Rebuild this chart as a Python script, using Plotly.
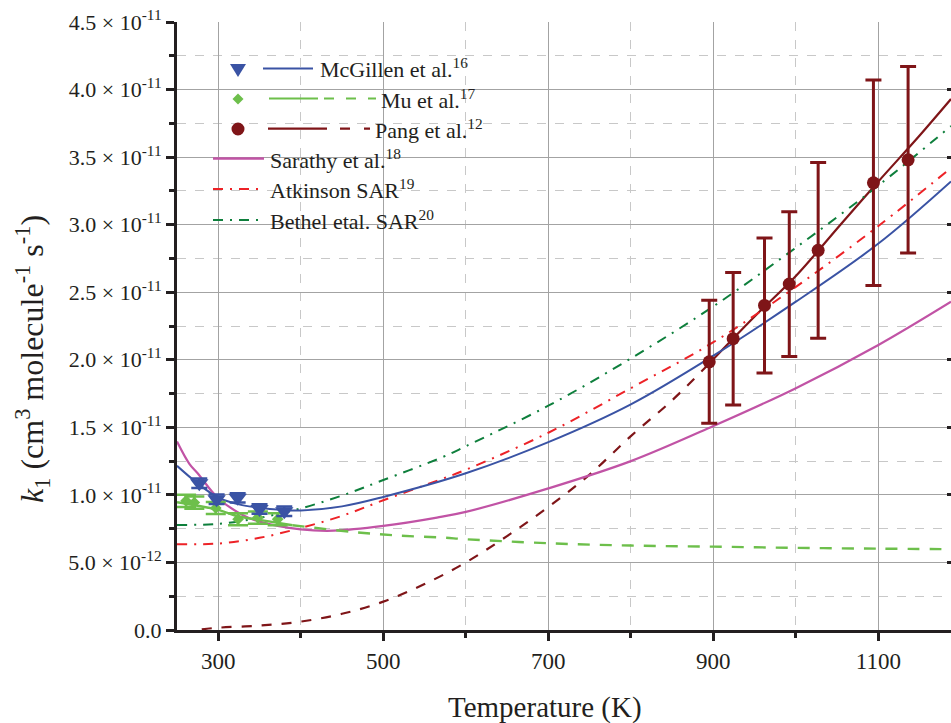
import plotly.graph_objects as go

# ---------------- data (k in units of 1e-12 cm3 molecule-1 s-1) ----------------
# McGillen et al. measurements and fit
mcg_T = [277, 298, 323.5, 350, 380]
mcg_k = [10.86, 9.68, 9.78, 8.96, 8.79]
mcg_err = [0.35, 0.35, 0.35, 0.35, 0.35]
mcg_fit_T = [250, 275, 300, 325, 350, 375, 400, 450, 500, 600, 700, 800, 900, 1000, 1100, 1188]
mcg_fit_k = [12.15, 10.85, 9.8, 9.3, 9.05, 8.9, 8.85, 9.15, 9.85, 11.6, 13.9, 16.7, 20.3, 24.3, 28.6, 33.2]

# Mu et al. measurements and fit (solid in measured range, dashed extrapolation)
mu_T = [261, 271, 297, 324, 348, 372]
mu_k = [9.56, 9.43, 9.03, 8.2, 8.32, 8.2]
mu_err = [0.45, 0.45, 0.45, 0.45, 0.45, 0.45]
mu_fit_T = [250, 275, 300, 325, 350, 390]
mu_fit_k = [9.46, 9.2, 8.89, 8.4, 8.15, 7.75]
mu_ext_T = [390, 415, 466, 518, 572, 600, 700, 800, 900, 1000, 1100, 1188]
mu_ext_k = [7.75, 7.58, 7.24, 6.99, 6.84, 6.72, 6.42, 6.25, 6.17, 6.08, 6.02, 5.98]

# Pang et al. measurements and fit
pang_T = [895, 924, 962, 992, 1027, 1094, 1136]
pang_k = [19.85, 21.56, 24.02, 25.6, 28.1, 33.1, 34.8]
pang_err = [4.55, 4.9, 5.0, 5.35, 6.5, 7.6, 6.9]
pang_ext_T = [280, 300, 350, 400, 450, 500, 550, 600, 650, 700, 750, 800, 850, 897]
pang_ext_k = [0.05, 0.17, 0.33, 0.62, 1.2, 2.1, 3.4, 5.0, 6.95, 9.1, 11.5, 14.35, 17.0, 19.85]
pang_fit_T = [897, 950, 1000, 1054, 1100, 1150, 1188]
pang_fit_k = [19.85, 23.2, 26.2, 30.0, 33.2, 36.6, 39.3]

# Sarathy et al.
sar_T = [250, 265, 275, 300, 330, 350, 400, 440, 500, 565, 600, 700, 800, 900, 1000, 1100, 1188]
sar_k = [13.95, 12.3, 11.6, 9.75, 8.5, 8.02, 7.45, 7.35, 7.7, 8.32, 8.74, 10.48, 12.5, 15.1, 17.9, 21.1, 24.3]

# Atkinson SAR
atk_T = [250, 300, 350, 400, 450, 500, 572, 600, 700, 800, 900, 1000, 1100, 1188]
atk_k = [6.35, 6.4, 6.82, 7.55, 8.45, 9.6, 11.2, 11.86, 14.6, 17.9, 21.3, 25.4, 29.9, 34.2]

# Bethel et al. SAR
bet_T = [250, 300, 350, 400, 450, 500, 572, 600, 700, 800, 900, 1000, 1100, 1188]
bet_k = [7.78, 7.85, 8.3, 9.0, 9.95, 11.1, 12.8, 13.6, 16.6, 20.1, 23.95, 28.3, 32.9, 37.3]

# axis ticks
y_tickvals = [0, 5, 10, 15, 20, 25, 30, 35, 40, 45]
y_ticktext = ["0.0", "5.0 × 10<sup>-12</sup>", "1.0 × 10<sup>-11</sup>", "1.5 × 10<sup>-11</sup>",
              "2.0 × 10<sup>-11</sup>", "2.5 × 10<sup>-11</sup>", "3.0 × 10<sup>-11</sup>",
              "3.5 × 10<sup>-11</sup>", "4.0 × 10<sup>-11</sup>", "4.5 × 10<sup>-11</sup>"]
x_tickvals = [300, 500, 700, 900, 1100]

# legend entries
leg_labels = ["McGillen et al.<sup>16</sup>", "Mu et al.<sup>17</sup>", "Pang et al.<sup>12</sup>",
              "Sarathy et al.<sup>18</sup>", "Atkinson SAR<sup>19</sup>", "Bethel etal. SAR<sup>20</sup>"]

# ---------------- styles ----------------
BLUE = "#3a53a4"
LGREEN = "#6dbf4b"
DRED = "#7f1518"
MAG = "#c153a5"
RED = "#ed2227"
DGREEN = "#0e7f3c"
INK = "#231f20"
FONT = "Liberation Serif, 'Times New Roman', Times, serif"
DASHDOT = "10px,7px,2px,7px"

fig = go.Figure()

def line(x, y, color, dash="solid", width=2):
    fig.add_trace(go.Scatter(x=x, y=y, mode="lines", line=dict(color=color, width=width, dash=dash, shape="spline"),
                             showlegend=False, hoverinfo="skip"))

line(pang_ext_T, pang_ext_k, DRED, "10px,10px", 2.2)
line(pang_fit_T, pang_fit_k, DRED, "solid", 2.2)
line(bet_T, bet_k, DGREEN, DASHDOT, 2)
line(atk_T, atk_k, RED, DASHDOT, 2)
line(sar_T, sar_k, MAG, "solid", 2.2)
line(mu_ext_T, mu_ext_k, LGREEN, "12px,10px", 2.4)
line(mu_fit_T, mu_fit_k, LGREEN, "solid", 2.4)
line(mcg_fit_T, mcg_fit_k, BLUE, "solid", 2)

fig.add_trace(go.Scatter(x=mu_T, y=mu_k, mode="markers",
                         marker=dict(symbol="diamond", size=9, color=LGREEN),
                         error_y=dict(type="data", array=mu_err, color=LGREEN, thickness=2.5, width=10),
                         showlegend=False))
fig.add_trace(go.Scatter(x=mcg_T, y=mcg_k, mode="markers",
                         marker=dict(symbol="triangle-down", size=16, color=BLUE),
                         error_y=dict(type="data", array=mcg_err, color=BLUE, thickness=2.5, width=8),
                         showlegend=False))
fig.add_trace(go.Scatter(x=pang_T, y=pang_k, mode="markers",
                         marker=dict(symbol="circle", size=13, color=DRED),
                         error_y=dict(type="data", array=pang_err, color=DRED, thickness=3, width=8),
                         showlegend=False))
# dummy trace for right-hand tick axis
fig.add_trace(go.Scatter(x=[], y=[], yaxis="y2", showlegend=False))

# ---------------- custom legend (pixel layout -> paper) ----------------
PL, PB, PW, PH = 177, 630, 774, 608
def fx(x):
    return (x - PL) / PW
def fy(y):
    return (PB - y) / PH

shapes = []
annotations = []
def seg(x0, x1, y, color, dash="solid", width=2.2):
    shapes.append(dict(type="line", xref="paper", yref="paper", x0=fx(x0), x1=fx(x1), y0=fy(y), y1=fy(y),
                       line=dict(color=color, width=width, dash=dash)))

seg(263, 313, 68.5, BLUE)
seg(269, 318, 98.5, LGREEN)
seg(324, 376, 98.5, LGREEN, "10px,12px")
seg(268, 327, 128.7, DRED)
seg(340, 370, 128.7, DRED, "10px,14px")
seg(213, 264, 158.5, MAG, "solid", 2.5)
seg(213, 261, 189, RED, DASHDOT)
seg(213, 261, 220, DGREEN, DASHDOT)

# legend symbols (pixel-sized shapes)
shapes.append(dict(type="path", xref="paper", yref="paper", xsizemode="pixel", ysizemode="pixel",
                   xanchor=fx(238), yanchor=fy(69), path="M -8,5 L 8,5 L 0,-8 Z",
                   fillcolor=BLUE, line=dict(width=0)))
shapes.append(dict(type="path", xref="paper", yref="paper", xsizemode="pixel", ysizemode="pixel",
                   xanchor=fx(238), yanchor=fy(99), path="M -5.5,0 L 0,5.5 L 5.5,0 L 0,-5.5 Z",
                   fillcolor=LGREEN, line=dict(width=0)))
shapes.append(dict(type="circle", xref="paper", yref="paper", xsizemode="pixel", ysizemode="pixel",
                   xanchor=fx(238), yanchor=fy(129), x0=-6.5, x1=6.5, y0=-6.5, y1=6.5,
                   fillcolor=DRED, line=dict(width=0)))

leg_pos = [(318, 68.5), (379, 99), (373, 129), (268, 158.5), (268, 188.5), (268, 219.5)]
for (lx, ly), txt in zip(leg_pos, leg_labels):
    annotations.append(dict(xref="paper", yref="paper", x=fx(lx), y=fy(ly), text=txt, showarrow=False,
                            xanchor="left", yanchor="middle", font=dict(family=FONT, size=22, color=INK)))

# axis titles
annotations.append(dict(xref="paper", yref="paper", x=fx(545), y=fy(707), text="Temperature (K)",
                        showarrow=False, xanchor="center", yanchor="middle",
                        font=dict(family=FONT, size=29, color=INK)))
annotations.append(dict(xref="paper", yref="paper", x=fx(32), y=fy(359),
                        text="<i>k</i><sub>1</sub> (cm<sup>3</sup> molecule<sup>-1</sup> s<sup>-1</sup>)",
                        textangle=-90, showarrow=False, xanchor="center", yanchor="middle",
                        font=dict(family=FONT, size=32, color=INK)))

fig.update_layout(
    width=951, height=723,
    margin=dict(l=177, r=0, t=22, b=93),
    paper_bgcolor="white", plot_bgcolor="white",
    font=dict(family=FONT, color=INK),
    shapes=shapes, annotations=annotations,
    showlegend=False,
    xaxis=dict(range=[250, 1188], tickvals=x_tickvals, ticks="outside", ticklen=8, tickwidth=2.5,
               tickcolor=INK, showline=True, linecolor=INK, linewidth=3, zeroline=False,
               showgrid=True, gridcolor="#a3a3a3", gridwidth=1.3,
               tickfont=dict(family=FONT, size=23, color=INK),
               minor=dict(tickvals=[400, 600, 800, 1000], ticks="outside", ticklen=5, tickwidth=2.5,
                          tickcolor=INK, showgrid=True, gridcolor="#c8c8c8", griddash="dash", gridwidth=1)),
    yaxis=dict(range=[0, 45], tickvals=y_tickvals, ticktext=y_ticktext, ticks="outside", ticklen=8,
               tickwidth=2.5, tickcolor=INK, showline=True, linecolor=INK, linewidth=3, zeroline=False,
               showgrid=True, gridcolor="#a3a3a3", gridwidth=1.3,
               tickfont=dict(family=FONT, size=22, color=INK),
               minor=dict(dtick=2.5, tick0=0, ticks="outside", ticklen=5, tickwidth=2.5, tickcolor=INK,
                          showgrid=True, gridcolor="#c8c8c8", griddash="dash", gridwidth=1)),
    yaxis2=dict(range=[0, 45], overlaying="y", side="right", tickvals=y_tickvals, ticks="inside",
                ticklen=4, tickwidth=3, tickcolor=INK, showticklabels=False, showgrid=False,
                showline=False, zeroline=False),
)

fig.write_html("out.html", config={"displayModeBar": False},
               post_script="document.body.style.margin='0';document.body.style.overflow='hidden';")
